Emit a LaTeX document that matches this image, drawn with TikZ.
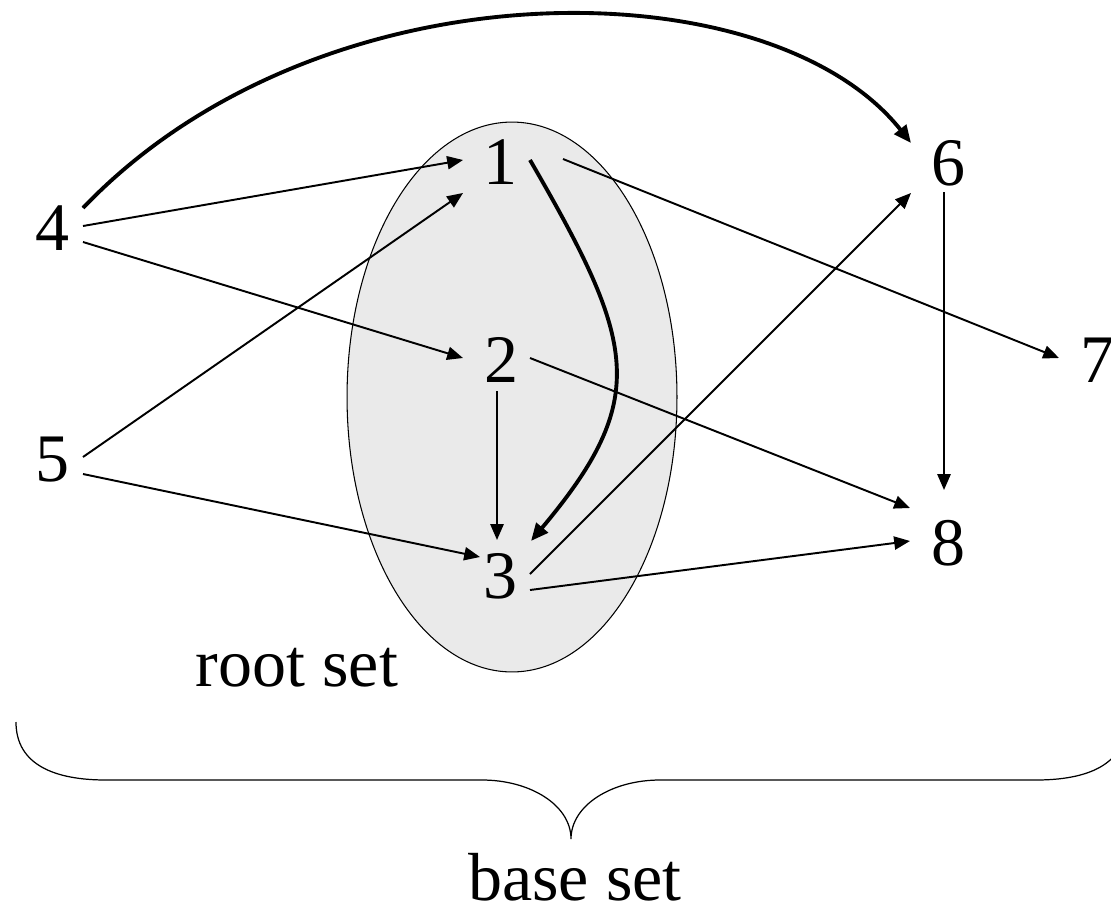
\documentclass[tikz,border=0pt]{standalone}
\usepackage{fontspec}
\setmainfont{Liberation Serif}
\usetikzlibrary{arrows.meta,calc}
\definecolor{setgray}{RGB}{234,234,234}
\begin{document}
\begin{tikzpicture}[x=0.02cm,y=-0.02cm,
  lbl/.style={font=\fontsize{38.7}{46}\selectfont, inner sep=0pt, anchor=center},
  thinarrow/.style={line width=1.1pt, -{Triangle[length=9pt,width=7.5pt]}},
  thickarrow/.style={line width=2.2pt, -{Triangle[length=10pt,width=8.5pt]}},
  bracestyle/.style={line width=0.7pt}]
\useasboundingbox (0,0) rectangle (1111,906);
% root set ellipse
\draw[fill=setgray, line width=0.6pt] (512,397) ellipse [x radius=3.3cm, y radius=5.5cm];
% nodes
\node[lbl] (n1) at (500,162) {1};
\node[lbl] (n2) at (501,360) {2};
\node[lbl] (n3) at (500,576) {3};
\node[lbl] (n4) at (52,228) {4};
\node[lbl] (n5) at (52,460) {5};
\node[lbl] (n6) at (948,163) {6};
\node[lbl] (n7) at (1097,360) {7};
\node[lbl] (n8) at (948,543) {8};
\node[lbl] (root) at (297,668) {root set};
\node[lbl] (base) at (575,877) {base set};
% edges
\draw[thinarrow] ($(n4)+(31,-2)$) -- ($(n1)+(-37,-2)$);
\draw[thinarrow] ($(n4)+(31,14)$) -- ($(n2)+(-38,-2)$);
\draw[thickarrow] ($(n4)+(31,-20)$) .. controls (320,-40) and (770,-35) .. ($(n6)+(-37,-20)$);
\draw[thinarrow] ($(n5)+(31,-3)$) -- ($(n1)+(-37,31)$);
\draw[thinarrow] ($(n5)+(31,14)$) -- ($(n3)+(-20,-19)$);
\draw[thickarrow] ($(n1)+(30,-2)$) .. controls (636,343) and (651,398) .. ($(n3)+(31,-35)$);
\draw[thinarrow] ($(n1)+(63,-3)$) -- ($(n7)+(-38,-2)$);
\draw[thinarrow] ($(n2)+(-4,31)$) -- ($(n3)+(-3,-36)$);
\draw[thinarrow] ($(n2)+(29,-2)$) -- ($(n8)+(-38,-35)$);
\draw[thinarrow] ($(n3)+(30,-2)$) -- ($(n6)+(-37,30)$);
\draw[thinarrow] ($(n3)+(30,14)$) -- ($(n8)+(-38,-2)$);
\draw[thinarrow] ($(n6)+(-4,29)$) -- ($(n8)+(-4,-53)$);
% base set brace
\draw[bracestyle] (16,722) .. controls (16,765) and (55,780) .. (106,780)
  -- (482,780) .. controls (530,780) and (571,805) .. (571,839)
  .. controls (571,805) and (612,780) .. (660,780)
  -- (1036,780) .. controls (1087,780) and (1126,765) .. (1126,722);
\end{tikzpicture}
\end{document}
